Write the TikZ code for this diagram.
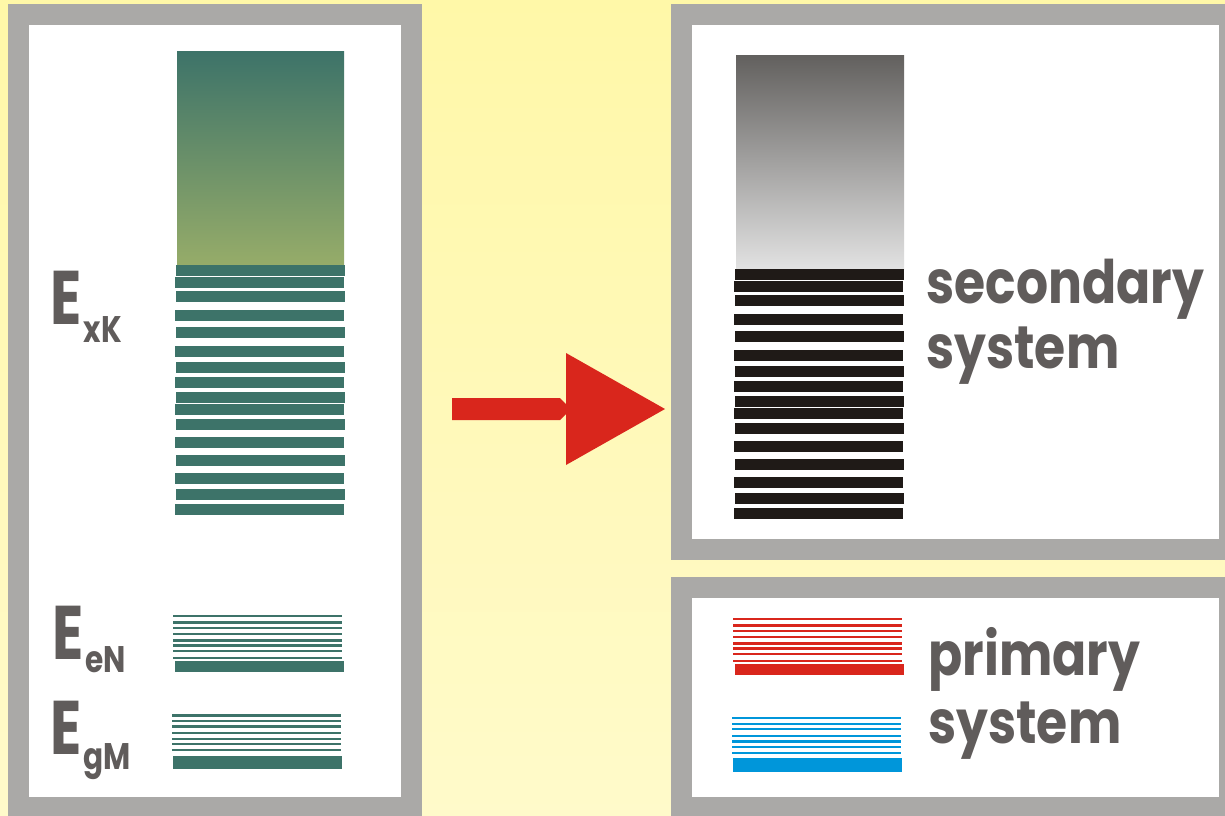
\documentclass[tikz,border=0pt]{standalone}
\usepackage{fontspec}
\usepackage{graphicx}
\newfontfamily\labelfont{Poppins}

\definecolor{bgtop}{RGB}{255,248,168}
\definecolor{bgbottom}{RGB}{255,250,202}
\definecolor{framegray}{RGB}{170,169,167}
\definecolor{tealbar}{RGB}{61,115,105}
\definecolor{olivegreen}{RGB}{150,172,105}
\definecolor{darkslate}{RGB}{98,96,94}
\definecolor{lightslate}{RGB}{226,226,226}
\definecolor{inkblack}{RGB}{31,26,23}
\definecolor{primred}{RGB}{217,38,28}
\definecolor{primblue}{RGB}{0,150,218}
\definecolor{labelgray}{RGB}{96,92,91}

\tikzset{
  frame/.style={fill=framegray},
  inside/.style={fill=white},
  shiftarrow/.style={fill=primred},
  syslabel/.style={text=labelgray, anchor=base west, inner sep=0pt,
                   font=\labelfont\bfseries\fontsize{30}{30}\selectfont},
  elabel/.style={text=labelgray, anchor=base west, inner sep=0pt,
                 font=\labelfont\bfseries}
}

% tops/left edges of the dense levels (pixel units, y down)
\def\bandtops{265/176,277/175,291/176,310/175,327/176,346/175,362/176,377/175,
  392/176,404/175,419/176,437/175,455/176,473/175,489/176,504/175}
\def\eNtops{615,621.3,626.7,633,639.3,644.3,650,656.7}
\def\gMtops{714.3,720,725.3,732,737.7,743,749}

\newcommand{\Elevel}[2]{\scalebox{0.76}[1]{\fontsize{38}{38}\selectfont E}%
  \kern1pt\raisebox{-#2}{\scalebox{0.8}[1]{\fontsize{18.5}{18.5}\selectfont #1}}}
\newcommand{\sysword}[1]{\scalebox{0.84}[1]{#1}}

\begin{document}
\begin{tikzpicture}[x=0.5pt,y=-0.5pt]
  \useasboundingbox (0,0) rectangle (1225,815);
  \clip (0,0) rectangle (1225,815);
  \shade[top color=bgtop, bottom color=bgbottom] (0,0) rectangle (1225,815);

  % panels
  \fill[frame] (8,4) rectangle (422,830);
  \fill[inside] (29,25) rectangle (401,797);
  \fill[frame] (671,4) rectangle (1240,560);
  \fill[inside] (692,25) rectangle (1219,539);
  \fill[frame] (671,577) rectangle (1240,830);
  \fill[inside] (692,598) rectangle (1219,797);

  % left: continuum and levels
  \shade[top color=tealbar, bottom color=olivegreen] (177,51) rectangle (344,265);
  \foreach \t/\l in \bandtops
    \fill[tealbar] (\l,\t) rectangle ++(169,10.5);
  \foreach \t in \eNtops
    \fill[tealbar] (173,\t) rectangle ++(169,2.4);
  \fill[tealbar] (175,661) rectangle (344,671.7);
  \foreach \t in \gMtops
    \fill[tealbar] (172,\t) rectangle ++(169,2.4);
  \fill[tealbar] (173,755.7) rectangle (342,769);

  % right: secondary system
  \begin{scope}[shift={(559,4)}]
    \shade[top color=darkslate, bottom color=lightslate] (177,51) rectangle (345,265);
    \foreach \t/\l in \bandtops
      \fill[inkblack] (\l,\t) rectangle ++(169,10.5);
  \end{scope}

  % right: primary system
  \begin{scope}[shift={(560,3)}]
    \foreach \t in \eNtops
      \fill[primred] (173,\t) rectangle ++(169,2.4);
    \fill[primred] (175,661) rectangle (344,671.7);
  \end{scope}
  \begin{scope}[shift={(560,2.5)}]
    \foreach \t in \gMtops
      \fill[primblue] (172,\t) rectangle ++(169,2.4);
    \fill[primblue] (173,755.7) rectangle (342,769);
  \end{scope}

  % block arrow
  \fill[shiftarrow] (452,398) -- (560,398) -- (566,404) -- (566,353) -- (665,409)
    -- (566,465) -- (566,414) -- (560,420) -- (452,420) -- cycle;

  % labels
  \node[elabel] (exk) at (50,324) {\Elevel{xK}{9pt}};
  \node[elabel] (een) at (52,659) {\Elevel{eN}{6.5pt}};
  \node[elabel] (egm) at (50,754) {\Elevel{gM}{7.5pt}};
  \node[syslabel] (secword) at (926,303) {\sysword{secondary}};
  \node[syslabel] (secsys) at (926,368) {\sysword{system}};
  \node[syslabel] (primword) at (928,675) {\sysword{primary}};
  \node[syslabel] (primsys) at (928,743) {\sysword{system}};
\end{tikzpicture}
\end{document}
